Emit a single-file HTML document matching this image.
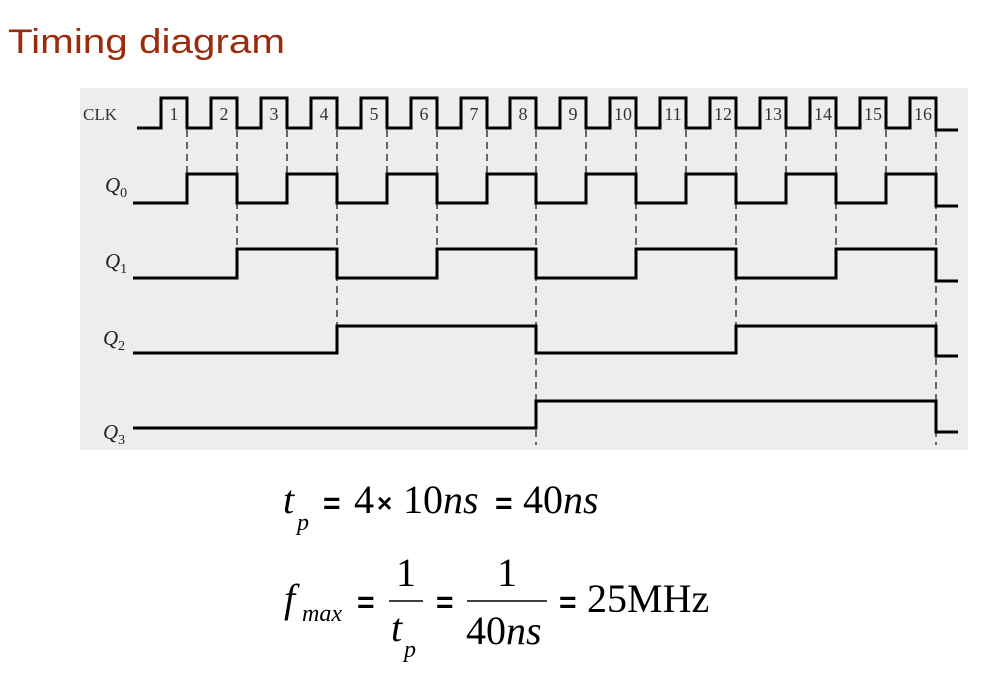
<!DOCTYPE html>
<html><head><meta charset="utf-8"><style>
html,body{margin:0;padding:0;background:#fff;width:1004px;height:673px;overflow:hidden}
svg{display:block}
.s{font-family:"Liberation Serif",serif}
</style></head><body>
<svg width="1004" height="673" viewBox="0 0 1004 673" xmlns="http://www.w3.org/2000/svg">
<text x="8" y="53" font-family="Liberation Sans, sans-serif" font-size="34" fill="#9a2c0c" textLength="277" lengthAdjust="spacingAndGlyphs">Timing diagram</text>
<rect x="80" y="88" width="888" height="362" fill="#ededed"/>
<g stroke="#444" stroke-width="1.6" stroke-dasharray="7,5" fill="none">
<path d="M187 130V174M287 130V174M387 130V174M487 130V174M586 130V174M686 130V174M786 130V174M886 130V174
M237 130V249M437 130V249M636 130V249M836 130V249
M337 130V326M736 130V326
M536 130V445M936 130V445"/>
</g>
<g stroke="#000" stroke-width="3" fill="none">
<path d="M137 128H161V98H187V128H211V98H237V128H261V98H287V128H311V98H337V128H361V98H387V128H411V98H437V128H461V98H487V128H510V98H536V128H560V98H586V128H610V98H636V128H660V98H686V128H710V98H736V128H760V98H786V128H810V98H836V128H860V98H886V128H910V98H936V130H958"/>
<path d="M133 203H187V174H237V203H287V174H337V203H387V174H437V203H487V174H536V203H586V174H636V203H686V174H736V203H786V174H836V203H886V174H936V206H958"/>
<path d="M133 278H237V249H337V278H437V249H536V278H636V249H736V278H836V249H936V281H958"/>
<path d="M133 353H337V326H536V353H736V326H936V356H958"/>
<path d="M133 428H536V401H936V432H958"/>
</g>
<g class="s" font-size="18" fill="#333" text-anchor="middle">
<text x="174" y="120">1</text><text x="224" y="120">2</text><text x="274" y="120">3</text><text x="324" y="120">4</text>
<text x="374" y="120">5</text><text x="424" y="120">6</text><text x="474" y="120">7</text><text x="523" y="120">8</text>
<text x="573" y="120">9</text><text x="623" y="120">10</text><text x="673" y="120">11</text><text x="723" y="120">12</text>
<text x="773" y="120">13</text><text x="823" y="120">14</text><text x="873" y="120">15</text><text x="923" y="120">16</text>
</g>
<text class="s" x="83" y="120" font-size="17" fill="#333">CLK</text>
<g class="s" font-size="21" font-style="italic" fill="#222">
<text x="105" y="192">Q<tspan font-size="14" font-style="normal" dy="5">0</tspan></text>
<text x="105" y="268">Q<tspan font-size="14" font-style="normal" dy="5">1</tspan></text>
<text x="103" y="345">Q<tspan font-size="14" font-style="normal" dy="5">2</tspan></text>
<text x="103" y="439">Q<tspan font-size="14" font-style="normal" dy="5">3</tspan></text>
</g>
<g class="s" font-size="40" fill="#000">
<text x="283" y="513" font-style="italic">t</text>
<text x="297" y="530" font-size="24" font-style="italic">p</text>
<text x="323" y="513" font-family="Liberation Sans, sans-serif" font-weight="bold" font-size="30">=</text>
<text x="354" y="513">4</text>
<text x="377" y="512" font-family="Liberation Sans, sans-serif" font-weight="bold" font-size="26">×</text>
<text x="403" y="513">10<tspan font-style="italic">ns</tspan></text>
<text x="495" y="513" font-family="Liberation Sans, sans-serif" font-weight="bold" font-size="30">=</text>
<text x="523" y="513">40<tspan font-style="italic">ns</tspan></text>

<text x="284" y="612" font-style="italic">f</text>
<text x="302" y="621" font-size="24" font-style="italic">max</text>
<text x="357" y="612" font-family="Liberation Sans, sans-serif" font-weight="bold" font-size="30">=</text>
<text x="406" y="586" text-anchor="middle">1</text>
<line x1="389" y1="601" x2="423" y2="601" stroke="#000" stroke-width="1.5"/>
<text x="391" y="641" font-style="italic">t</text>
<text x="404" y="657" font-size="24" font-style="italic">p</text>
<text x="436" y="612" font-family="Liberation Sans, sans-serif" font-weight="bold" font-size="30">=</text>
<text x="507" y="586" text-anchor="middle">1</text>
<line x1="467" y1="601" x2="547" y2="601" stroke="#000" stroke-width="1.5"/>
<text x="466" y="644">40<tspan font-style="italic">ns</tspan></text>
<text x="559" y="612" font-family="Liberation Sans, sans-serif" font-weight="bold" font-size="30">=</text>
<text x="587" y="612">25MHz</text>
</g>
</svg>
</body></html>
